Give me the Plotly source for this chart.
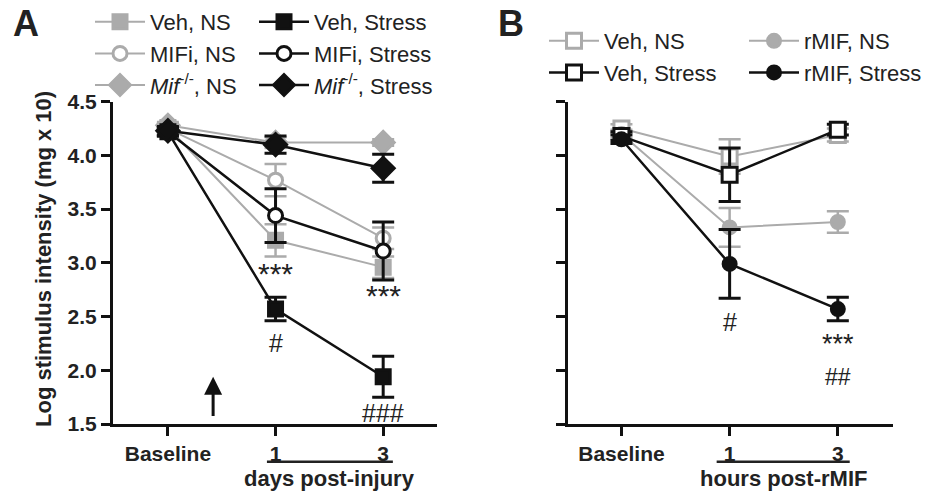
import plotly.graph_objects as go

# ---------------- data ----------------
categories = ["Baseline", "1", "3"]
xpos = [0, 1, 2]

# Panel A (days post-injury)
a_veh_ns = [4.26, 3.21, 2.96]
a_veh_ns_err = [0.04, 0.15, 0.10]
a_mifi_ns = [4.25, 3.77, 3.23]
a_mifi_ns_err = [0.04, 0.15, 0.10]
a_ko_ns = [4.28, 4.12, 4.12]
a_ko_ns_err = [0.03, 0.05, 0.03]
a_veh_st = [4.22, 2.57, 1.94]
a_veh_st_err = [0.04, 0.11, 0.19]
a_mifi_st = [4.22, 3.44, 3.11]
a_mifi_st_err = [0.04, 0.25, 0.27]
a_ko_st = [4.23, 4.10, 3.88]
a_ko_st_err = [0.04, 0.08, 0.13]

# Panel B (hours post-rMIF)
b_veh_ns = [4.25, 3.99, 4.19]
b_veh_ns_err = [0.04, 0.16, 0.06]
b_veh_st = [4.18, 3.82, 4.24]
b_veh_st_err = [0.04, 0.25, 0.05]
b_rmif_ns = [4.20, 3.33, 3.38]
b_rmif_ns_err = [0.04, 0.18, 0.10]
b_rmif_st = [4.15, 2.99, 2.57]
b_rmif_st_err = [0.04, 0.32, 0.11]

y_ticks = [1.5, 2.0, 2.5, 3.0, 3.5, 4.0, 4.5]

# significance labels: (text, x index, y value, vertical anchor, font size)
sig_a = [("***", 1, 2.90, "middle", 30), ("***", 2, 2.70, "middle", 30),
         ("#", 1, 2.25, "middle", 25), ("###", 2, 1.60, "middle", 25)]
sig_b = [("#", 1, 2.45, "middle", 25), ("***", 2, 2.09, "bottom", 27),
         ("##", 2, 2.08, "top", 23)]

# ---------------- style ----------------
FONT = "Arial, Liberation Sans, sans-serif"
GRAY = "#ababab"
BLACK = "#111111"
W, H = 930, 496


def px_x(p):
    return p / W


def px_y(p):
    return (H - p) / H


fig = go.Figure()


def add(x, y, err, name, color, symbol, size, fill, xa, ya, legend, lw):
    fig.add_trace(go.Scatter(
        x=x, y=y, name=name, mode="lines+markers",
        xaxis=xa, yaxis=ya, legend=legend,
        line=dict(color=color, width=lw),
        marker=dict(symbol=symbol, size=size, color=fill,
                    line=dict(color=color, width=3)),
        error_y=dict(type="data", array=err, visible=True, color=color,
                     thickness=3 if color == BLACK else 2.5, width=11),
    ))


# Panel A traces: gray first, black on top
add(xpos, a_veh_ns, a_veh_ns_err, "Veh, NS", GRAY, "square", 14, GRAY, "x", "y", "legend", 2)
add(xpos, a_mifi_ns, a_mifi_ns_err, "MIFi, NS", GRAY, "circle", 14, "white", "x", "y", "legend", 2)
add(xpos, a_ko_ns, a_ko_ns_err, "<i>Mif</i><sup>-/-</sup>, NS", GRAY, "diamond", 17, GRAY, "x", "y", "legend", 2)
add(xpos, a_veh_st, a_veh_st_err, "Veh, Stress", BLACK, "square", 14, BLACK, "x", "y", "legend2", 2.5)
add(xpos, a_mifi_st, a_mifi_st_err, "MIFi, Stress", BLACK, "circle", 14, "white", "x", "y", "legend2", 2.5)
add(xpos, a_ko_st, a_ko_st_err, "<i>Mif</i><sup>-/-</sup>, Stress", BLACK, "diamond", 17, BLACK, "x", "y", "legend2", 2.5)

# Panel B traces
add(xpos, b_veh_ns, b_veh_ns_err, "Veh, NS", GRAY, "square", 15, "white", "x2", "y2", "legend3", 2)
add(xpos, b_rmif_ns, b_rmif_ns_err, "rMIF, NS", GRAY, "circle", 13, GRAY, "x2", "y2", "legend4", 2)
add(xpos, b_veh_st, b_veh_st_err, "Veh, Stress", BLACK, "square", 15, "white", "x2", "y2", "legend3", 2.5)
add(xpos, b_rmif_st, b_rmif_st_err, "rMIF, Stress", BLACK, "circle", 13, BLACK, "x2", "y2", "legend4", 2.5)

axis_common = dict(showgrid=False, zeroline=False, showline=True, linecolor=BLACK,
                   linewidth=3, ticks="outside", tickcolor=BLACK, ticklen=9, tickwidth=2.5,
                   automargin=False,
                   tickfont=dict(family=FONT, size=21, color="#222", weight="bold"))

ydom = [px_y(424), px_y(101.7)]

fig.update_layout(
    width=W, height=H, margin=dict(l=0, r=0, t=0, b=0, pad=0, autoexpand=False),
    paper_bgcolor="white", plot_bgcolor="white",
    font=dict(family=FONT, color="#222"),
    xaxis=dict(domain=[px_x(113), px_x(437)], range=[-0.51, 2.5],
               tickvals=xpos, ticktext=categories, anchor="y", **axis_common),
    yaxis=dict(domain=ydom, range=[1.5, 4.5], tickvals=y_ticks,
               ticktext=[f"{v:.1f}" for v in y_ticks], anchor="x", **axis_common),
    xaxis2=dict(domain=[px_x(568), px_x(893)], range=[-0.494, 2.51],
                tickvals=xpos, ticktext=categories, anchor="y2", **axis_common),
    yaxis2=dict(domain=ydom, range=[1.5, 4.5], tickvals=y_ticks,
                showticklabels=False, anchor="x2", **axis_common),
)

leg_common = dict(orientation="v", xanchor="left", yanchor="top", bgcolor="rgba(0,0,0,0)",
                  font=dict(family=FONT, size=22, color="#222"), tracegroupgap=0,
                  itemsizing="trace", itemwidth=50)
fig.update_layout(
    legend=dict(x=px_x(90), y=px_y(1), **leg_common),
    legend2=dict(x=px_x(254), y=px_y(1), **leg_common),
    legend3=dict(x=px_x(544), y=px_y(20), **leg_common),
    legend4=dict(x=px_x(744), y=px_y(20), **leg_common),
)

ann = []


def note(text, x, y, xref, yref, size, angle=0, yanchor="middle"):
    ann.append(dict(text=text, x=x, y=y, xref=xref, yref=yref, showarrow=False,
                    xanchor="center", yanchor=yanchor, textangle=angle,
                    font=dict(size=size, family=FONT, color="#222")))


# panel letters
note("<b>A</b>", px_x(26), px_y(24), "paper", "paper", 36)
note("<b>B</b>", px_x(511), px_y(24), "paper", "paper", 36)
# y title
note("<b>Log stimulus intensity (mg x 10)</b>", px_x(43), px_y(259), "paper", "paper", 22, -90)
# x sub-titles
note("<b>days post-injury</b>", 1.5, px_y(478), "x", "paper", 22)
note("<b>hours post-rMIF</b>", 1.5, px_y(478), "x2", "paper", 22)
# significance marks
for t, xi, yv, anc, sz in sig_a:
    note(t, xpos[xi], yv, "x", "y", sz, yanchor=anc)
for t, xi, yv, anc, sz in sig_b:
    note(t, xpos[xi], yv, "x2", "y2", sz, yanchor=anc)
# injury arrow
ann.append(dict(text="", x=0.42, y=1.94, ax=0.42, ay=1.56, xref="x", yref="y",
                axref="x", ayref="y", showarrow=True, arrowhead=2, arrowsize=1.2,
                arrowwidth=3, arrowcolor="#111"))
fig.update_layout(annotations=ann)

shapes = [
    dict(type="line", xref="x", yref="paper", x0=0.92, x1=2.09, y0=px_y(461.7), y1=px_y(461.7),
         line=dict(color="#222", width=2.5)),
    dict(type="line", xref="x2", yref="paper", x0=0.88, x1=2.11, y0=px_y(461.7), y1=px_y(461.7),
         line=dict(color="#222", width=2.5)),
]
fig.update_layout(shapes=shapes)

# remove the browser's default 8px page margin so the figure fills the window
fig.write_html("out.html", config={"displayModeBar": False},
               post_script="document.body.style.margin='0px';")
